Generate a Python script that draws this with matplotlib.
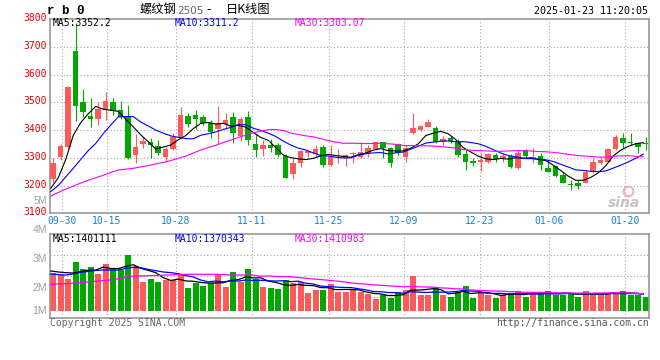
import numpy as np
import pandas as pd
import matplotlib
matplotlib.use("Agg")
import matplotlib.pyplot as plt
from matplotlib import transforms

# ---- data (rb0 daily K-line, 80 sessions) ----
open_ = [3222, 3304, 3340, 3685, 3501, 3451, 3440, 3472, 3501, 3472,
         3450, 3311, 3349, 3358, 3342, 3304, 3331, 3376, 3451, 3454,
         3446, 3424, 3403, 3421, 3446, 3380, 3446, 3350, 3332, 3346,
         3346, 3308, 3242, 3282, 3316, 3314, 3338, 3274, 3300, 3298,
         3314, 3304, 3316, 3332, 3356, 3334, 3349, 3304, 3388, 3400,
         3412, 3406, 3358, 3370, 3362, 3314, 3288, 3284, 3286, 3310,
         3296, 3306, 3262, 3328, 3301, 3306, 3262, 3270, 3238, 3203,
         3208, 3210, 3250, 3282, 3286, 3332, 3372, 3356, 3352, 3350]
high = [3300, 3349, 3557, 3785, 3547, 3514, 3502, 3538, 3517, 3505,
        3490, 3386, 3376, 3373, 3364, 3340, 3388, 3484, 3463, 3472,
        3454, 3435, 3486, 3460, 3466, 3448, 3470, 3386, 3364, 3367,
        3352, 3314, 3298, 3328, 3328, 3346, 3346, 3346, 3330, 3314,
        3322, 3358, 3346, 3358, 3358, 3338, 3352, 3346, 3460, 3418,
        3439, 3415, 3378, 3378, 3367, 3328, 3298, 3316, 3318, 3318,
        3316, 3314, 3328, 3331, 3334, 3316, 3292, 3274, 3250, 3220,
        3220, 3256, 3298, 3302, 3334, 3382, 3390, 3388, 3358, 3376]
low = [3214, 3292, 3335, 3432, 3446, 3412, 3418, 3436, 3454, 3440,
       3296, 3282, 3334, 3298, 3310, 3290, 3328, 3372, 3410, 3403,
       3418, 3370, 3349, 3403, 3354, 3362, 3346, 3304, 3306, 3322,
       3304, 3227, 3222, 3268, 3304, 3304, 3268, 3270, 3280, 3270,
       3282, 3298, 3304, 3328, 3298, 3268, 3310, 3286, 3386, 3398,
       3410, 3352, 3346, 3352, 3304, 3256, 3272, 3252, 3280, 3286,
       3286, 3262, 3260, 3298, 3280, 3256, 3248, 3230, 3208, 3184,
       3187, 3208, 3246, 3278, 3284, 3328, 3334, 3346, 3318, 3328]
close = [3282, 3342, 3556, 3488, 3466, 3441, 3475, 3505, 3469, 3447,
         3298, 3339, 3360, 3346, 3316, 3332, 3376, 3454, 3422, 3440,
         3427, 3394, 3424, 3436, 3390, 3439, 3364, 3328, 3346, 3337,
         3310, 3228, 3282, 3324, 3324, 3332, 3274, 3306, 3303, 3310,
         3316, 3322, 3334, 3356, 3337, 3280, 3316, 3334, 3406, 3415,
         3430, 3358, 3367, 3362, 3310, 3286, 3280, 3292, 3314, 3296,
         3306, 3268, 3318, 3306, 3302, 3274, 3250, 3234, 3210, 3201,
         3200, 3250, 3286, 3292, 3330, 3376, 3354, 3354, 3340, 3348]
# volume in millions of lots
vol = [1.916, 1.860, 1.764, 2.173, 2.012, 2.060, 1.884, 2.125, 2.012, 1.981,
       2.342, 2.077, 1.699, 1.764, 1.699, 1.740, 1.740, 1.860, 1.547, 1.660,
       1.595, 1.660, 1.884, 1.571, 1.933, 1.684, 2.005, 1.764, 1.571, 1.547,
       1.523, 1.740, 1.660, 1.692, 1.434, 1.499, 1.499, 1.643, 1.458, 1.458,
       1.499, 1.458, 1.402, 1.282, 1.371, 1.313, 1.458, 1.499, 1.836, 1.378,
       1.378, 1.571, 1.378, 1.330, 1.458, 1.595, 1.313, 1.458, 1.378, 1.313,
       1.378, 1.434, 1.475, 1.337, 1.419, 1.458, 1.475, 1.378, 1.378, 1.434,
       1.330, 1.475, 1.378, 1.378, 1.434, 1.458, 1.475, 1.378, 1.378, 1.330]

# first points of the moving averages (history before the window is not shown)
ma5_head = [3190, 3228, 3294, 3381]
ma10_head = [3178, 3200, 3231, 3262, 3294, 3326, 3352, 3387, 3418]
ma30_head = [3162, 3175, 3187, 3198, 3209, 3219, 3228, 3237, 3247, 3256,
             3259, 3262, 3267, 3272, 3278, 3283, 3290, 3298, 3306, 3317,
             3328, 3337, 3345, 3355, 3364, 3373, 3381, 3390, 3396]
vma5_head = [1.957, 1.933, 1.916, 1.908]
vma10_head = [1.884, 1.872, 1.860, 1.884, 1.925, 1.945, 1.969, 1.981, 1.981]
vma30_head = [1.636, 1.645, 1.654, 1.663, 1.675, 1.692, 1.710, 1.725, 1.740, 1.770,
              1.805, 1.834, 1.838, 1.842, 1.848, 1.856, 1.862, 1.870, 1.877, 1.877,
              1.877, 1.877, 1.877, 1.870, 1.862, 1.860, 1.860, 1.855, 1.830]

date_labels = ["09-30", "10-15", "10-28", "11-11", "11-25",
               "12-09", "12-23", "01-06", "01-20"]
date_pos = [1.6, 7.6, 16.8, 26.93, 37.16, 47.16, 57.29, 66.49, 76.63]
price_ticks = [3100, 3200, 3300, 3400, 3500, 3600, 3700, 3800]
vol_labels = ["4M", "3M", "2M", "1M"]
ma_price_txt = ["MA5:3352.2", "MA10:3311.2", "MA30:3303.07"]
ma_vol_txt = ["MA5:1401111", "MA10:1370343", "MA30:1410983"]

RED = "#ff5a5a"
GREEN = "#00a800"
MA_COLORS = ["black", "#0000ff", "#ff00ff"]
FRAME = "#9a9a9a"
GRID = "#a8a8a8"
MONO = "DejaVu Sans Mono"

W, H = 660, 360
fig = plt.figure(figsize=(6.6, 3.6), dpi=100)
fig.patch.set_facecolor("white")


def px_axes(l, t, r, b):
    return fig.add_axes([l / W, 1 - b / H, (r - l) / W, (b - t) / H])


def ftext(x, y, s, **kw):
    fig.text(x / W, 1 - y / H, s, **kw)


def moving(vals, n, head):
    s = pd.Series(vals, dtype=float).rolling(n).mean().to_numpy()
    s[:n - 1] = head
    return s


x = np.arange(len(close))
o = np.array(open_, float)
c = np.array(close, float)
colors = np.where(c >= o, RED, GREEN)

ax = px_axes(50, 19, 649.3, 213.3)
axv = px_axes(50, 234.3, 649.3, 318)

for a in (ax, axv):
    a.set_xlim(-0.4, 79.5)
    a.set_xticks([])
    a.set_yticks([])
    for sp in a.spines.values():
        sp.set_color(FRAME)
        sp.set_linewidth(1.2)
    for p in date_pos:
        a.axvline(p - 0.4, color=GRID, lw=0.8, ls=(0, (1, 2)), zorder=0)

# ---- price panel ----
ax.set_ylim(3100, 3800)
for t in price_ticks[1:-1]:
    ax.axhline(t, color=GRID, lw=0.8, ls=(0, (1, 2)), zorder=0)
ax.vlines(x, low, high, colors=colors, lw=0.8, zorder=2)
ax.bar(x, np.maximum(np.abs(c - o), 3.6), bottom=np.minimum(o, c), width=0.76,
       color=colors, linewidth=0, zorder=3)
for n, head, col in zip((5, 10, 30), (ma5_head, ma10_head, ma30_head), MA_COLORS):
    ax.plot(x - 0.3, moving(close, n, head), color=col, lw=0.8, zorder=4)

ytr = transforms.offset_copy(
    transforms.blended_transform_factory(ax.transAxes, ax.transData),
    fig=fig, x=-3, y=1, units="dots")
for t in price_ticks:
    ax.text(0, t, str(t), transform=ytr, ha="right", va="center",
            color="#e00000", fontsize=7, family=MONO)
ftext(47, 201, "5M", ha="right", va="center", color="#a0a0a0", fontsize=7,
      family="Liberation Sans")

for s, xp, col in zip(ma_price_txt, (53, 175, 295), MA_COLORS):
    ftext(xp, 23.5, s, ha="left", va="center", color=col, fontsize=7, family=MONO)

# sina watermark
ax.plot([0.965], [0.115], transform=ax.transAxes, marker="o", ms=7, mfc="none",
        mec="#f0b4b4", mew=1.5, zorder=1)
ax.text(0.985, 0.055, "sina", transform=ax.transAxes, ha="right", va="center",
        color="#c4c4c4", fontsize=10, fontweight="bold", style="italic",
        family="DejaVu Sans", zorder=1)

# ---- volume panel ----
axv.set_ylim(0.824, 2.841)
for f in (0.25, 0.5, 0.75):
    axv.axhline(0.824 + f * (2.841 - 0.824), color=GRID, lw=0.8,
                ls=(0, (1, 2)), zorder=0)
axv.bar(x, np.array(vol) - 1.0, bottom=1.0, width=0.8, color=colors,
        linewidth=0, zorder=2)
for n, head, col in zip((5, 10, 30), (vma5_head, vma10_head, vma30_head), MA_COLORS):
    axv.plot(x - 0.3, moving(vol, n, head), color=col, lw=0.9, zorder=3)
for s, xp, col in zip(ma_vol_txt, (53, 175, 295), MA_COLORS):
    ftext(xp, 239.5, s, ha="left", va="center", color=col, fontsize=7, family=MONO)
for s, yp in zip(vol_labels, (230, 259.5, 288, 310.7)):
    ftext(47, yp, s, ha="right", va="center", color="#a0a0a0", fontsize=7.5,
          family="Liberation Sans")

# ---- dates between panels ----
dtr = transforms.blended_transform_factory(ax.transData, fig.transFigure)
for s, p in zip(date_labels, date_pos):
    ax.text(p - 0.4, 1 - 221 / H, s, transform=dtr, ha="center", va="center",
            color="#1a80d0", fontsize=7, family=MONO, clip_on=False)

# ---- header / footer ----
ftext(47, 11, "r b 0", ha="left", va="center", fontsize=9, fontweight="bold",
      family="Liberation Mono")
ftext(140, 9.5, "螺纹钢", ha="left", va="center", fontsize=8.8,
      family=["Noto Sans CJK SC", "DejaVu Sans"])
ftext(177, 10.5, "2505", ha="left", va="center", fontsize=7.5, color="#666666",
      family="DejaVu Sans")
ftext(206, 9.5, "-", ha="left", va="center", fontsize=8.8, family="DejaVu Sans")
ftext(226, 9.5, "日K线图", ha="left", va="center", fontsize=8.8,
      family=["Noto Sans CJK SC", "DejaVu Sans"])
ftext(648, 11.5, "2025-01-23 11:20:05", ha="right", va="center", fontsize=7.2,
      family=MONO)
ftext(50, 323, "Copyright 2025 SINA.COM", ha="left", va="center", fontsize=7,
      color="#666666", family=MONO)
ftext(649, 323.5, "http://finance.sina.com.cn", ha="right", va="center",
      fontsize=7, color="#555555", family=MONO)

fig.savefig("out.png", dpi=100, facecolor="white")
